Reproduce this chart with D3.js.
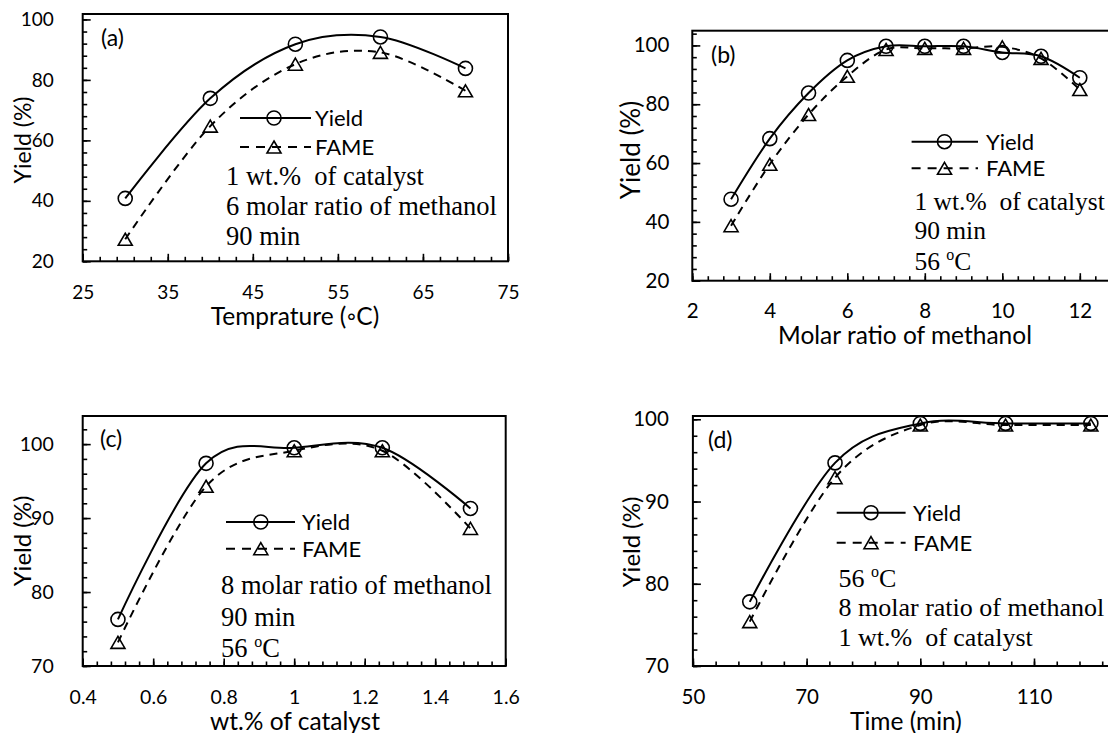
<!DOCTYPE html>
<html>
<head>
<meta charset="utf-8">
<title>Yield and FAME</title>
<script src="https://d3js.org/d3.v7.min.js"></script>
<style>
  body { margin: 0; background: #fff; }
  svg { display: block; }
  .sans { font-family: Lato, "Open Sans", sans-serif; }
  .serif { font-family: "Liberation Serif", "DejaVu Serif", serif; white-space: pre; }
</style>
</head>
<body>
<svg id="chart"></svg>
<script>

// (a) temperature
let tempX = [30, 40, 50, 60, 70];
let tempYield = [40.8, 73.9, 91.8, 94.2, 83.8];
let tempFame = [27.3, 64.7, 85.2, 89.1, 76.4];

// (b) molar ratio of methanol
let molarX = [3, 4, 5, 6, 7, 8, 9, 10, 11, 12];
let molarYield = [47.7, 68.3, 83.8, 94.9, 99.7, 99.7, 99.7, 97.6, 96.3, 89.0];
let molarFame = [38.7, 59.6, 76.5, 89.5, 98.6, 99.0, 99.0, 99.5, 95.6, 85.0];

// (c) catalyst loading
let catX = [0.5, 0.75, 1, 1.25, 1.5];
let catYield = [76.3, 97.4, 99.5, 99.5, 91.3];
let catFame = [73.2, 94.3, 99.1, 99.1, 88.6];

// (d) reaction time
let timeX = [60, 75, 90, 105, 120];
let timeYield = [77.8, 94.7, 99.5, 99.5, 99.5];
let timeFame = [75.4, 92.9, 99.3, 99.3, 99.3];

// tick labels (the ones that fall inside the picture)
let tempTicks = [25, 35, 45, 55, 65, 75];
let molarTicks = [2, 4, 6, 8, 10, 12];
let catTicks = [0.4, 0.6, 0.8, 1, 1.2, 1.4, 1.6];
let timeTicks = [50, 70, 90, 110];
let yTicksAB = [20, 40, 60, 80, 100];
let yTicksCD = [70, 80, 90, 100];

let seriesNames = ['Yield', 'FAME'];
let xTitles = ['Temprature (\u25E6C)', 'Molar ratio of methanol', 'wt.% of catalyst', 'Time (min)'];
let yTitle = 'Yield (%)';
let panelTags = ['(a)', '(b)', '(c)', '(d)'];
let notesA = ['1 wt.%  of catalyst', '6 molar ratio of methanol', '90 min'];
let notesB = ['1 wt.%  of catalyst', '90 min', '56 ^oC'];
let notesC = ['8 molar ratio of methanol', '90 min', '56 ^oC'];
let notesD = ['56 ^oC', '8 molar ratio of methanol', '1 wt.%  of catalyst'];

let svg = d3.select('#chart').attr('width', 1108).attr('height', 733);

let panels = [
  {
    tag: panelTags[0], x: tempX, yield: tempYield, fame: tempFame,
    xTicks: tempTicks, xMinor: 2, xDom: [25, 75], yTicks: yTicksAB, yMinor: 4, yDom: [20, 101.8],
    left: 82.7, right: 508, bottom: 261.3, top: 14,
    tickFont: 19, yPad: 29, yTitleX: 31, yTitleY: 140, yTitleFont: 23,
    xTitle: xTitles[0], xTitleX: 295, xTitleFont: 24.5,
    tagX: 101, tagY: 46,
    leg: { x0: 240, x1: 311, m: 274, y1: 118, y2: 147, tx: 315 },
    notes: notesA, noteX: 226, noteY: [185, 215, 245], noteFont: 26.5
  },
  {
    tag: panelTags[1], x: molarX, yield: molarYield, fame: molarFame,
    xTicks: molarTicks, xMinor: 0.4, xDom: [2, 14], yTicks: yTicksAB, yMinor: 4, yDom: [20, 105],
    left: 692.3, right: 1157.3, bottom: 280.7, top: 30.7,
    tickFont: 20.5, yPad: 23, yTitleX: 640, yTitleY: 150, yTitleFont: 26,
    xTitle: xTitles[1], xTitleX: 905, xTitleFont: 24.5,
    tagX: 711, tagY: 63,
    leg: { x0: 911.6, x1: 978, m: 944.5, y1: 141.7, y2: 168.3, tx: 986 },
    notes: notesB, noteX: 914.4, noteY: [210, 239, 270], noteFont: 25.5
  },
  {
    tag: panelTags[2], x: catX, yield: catYield, fame: catFame,
    xTicks: catTicks, xMinor: 0.04, xDom: [0.4, 1.6], yTicks: yTicksCD, yMinor: 2, yDom: [70, 103.8],
    left: 82.7, right: 505.7, bottom: 666, top: 416,
    tickFont: 19.5, yPad: 29, yTitleX: 31, yTitleY: 541, yTitleFont: 24,
    xTitle: xTitles[2], xTitleX: 295, xTitleFont: 24.5,
    tagX: 100, tagY: 447,
    leg: { x0: 226, x1: 295, m: 260.8, y1: 522, y2: 548.7, tx: 302 },
    notes: notesC, noteX: 221, noteY: [594, 626, 657], noteFont: 26.5
  },
  {
    tag: panelTags[3], x: timeX, yield: timeYield, fame: timeFame,
    xTicks: timeTicks, xMinor: 4, xDom: [50, 130], yTicks: yTicksCD, yMinor: 2, yDom: [70, 100.4],
    left: 692.9, right: 1147.7, bottom: 666, top: 416,
    tickFont: 20.5, yPad: 24, yTitleX: 640, yTitleY: 542, yTitleFont: 24,
    xTitle: xTitles[3], xTitleX: 906, xTitleFont: 24.5,
    tagX: 708, tagY: 448,
    leg: { x0: 836.7, x1: 905.6, m: 871, y1: 512.7, y2: 542.7, tx: 913 },
    notes: notesD, noteX: 838.5, noteY: [587, 616, 646], noteFont: 26
  }
];

panels.forEach(drawPanel);

function range(a, b, step) {
  let out = [];
  let n = Math.floor((b - a) / step + 1e-6);
  for (let i = 0; i <= n; i++) out.push(+(a + i * step).toFixed(4));
  return out;
}

function trianglePath(cx, cy) {
  let w = 7, h = 6;
  return 'M' + cx + ',' + (cy - h) + 'L' + (cx + w) + ',' + (cy + h) + 'L' + (cx - w) + ',' + (cy + h) + 'Z';
}

function drawPanel(p) {
  let g = svg.append('g');

  let xx = d3.scaleLinear().domain(p.xDom).range([p.left, p.right]);
  let yy = d3.scaleLinear().domain(p.yDom).range([p.bottom, p.top]);

  // minor ticks (inside)
  let xMinorAxis = d3.axisBottom(xx).tickValues(range(p.xDom[0], p.xDom[1], p.xMinor))
    .tickSizeInner(-4.5).tickSizeOuter(0).tickFormat('');
  let yMinorAxis = d3.axisLeft(yy).tickValues(range(p.yTicks[0], p.yDom[1], p.yMinor))
    .tickSizeInner(-4.5).tickSizeOuter(0).tickFormat('');
  g.append('g').attr('transform', translate(0, p.bottom)).call(xMinorAxis);
  g.append('g').attr('transform', translate(p.left, 0)).call(yMinorAxis);

  // major ticks + labels
  let xAxis = d3.axisBottom(xx).tickValues(p.xTicks).tickSizeInner(-7.5).tickSizeOuter(0)
    .tickPadding(37.5 - p.tickFont * 0.71).tickFormat(d3.format(''));
  let yAxis = d3.axisLeft(yy).tickValues(p.yTicks).tickSizeInner(-8).tickSizeOuter(0)
    .tickPadding(p.yPad).tickFormat(d3.format(''));
  g.append('g').attr('class', 'x-axis').attr('transform', translate(0, p.bottom)).call(xAxis);
  g.append('g').attr('class', 'y-axis').attr('transform', translate(p.left, 0)).call(yAxis);

  g.selectAll('.domain').remove();
  g.selectAll('.tick line').attr('stroke', '#000').attr('stroke-width', 1.6);
  g.selectAll('.tick text').attr('class', 'sans').attr('font-size', p.tickFont).attr('fill', '#000');

  // frame
  g.append('rect')
    .attr('x', p.left).attr('y', p.top)
    .attr('width', p.right - p.left).attr('height', p.bottom - p.top)
    .attr('fill', 'none').attr('stroke', '#000').attr('stroke-width', 2);

  // axis titles
  g.append('text').attr('class', 'sans')
    .attr('x', p.xTitleX)
    .attr('y', p.bottom + 63.5)
    .attr('text-anchor', 'middle').attr('font-size', p.xTitleFont)
    .text(p.xTitle);
  g.append('text').attr('class', 'sans')
    .attr('transform', translate(p.yTitleX, p.yTitleY) + ' rotate(-90)')
    .attr('text-anchor', 'middle').attr('font-size', p.yTitleFont)
    .text(yTitle);

  // panel tag
  g.append('text').attr('class', 'sans')
    .attr('x', p.tagX).attr('y', p.tagY).attr('font-size', 23)
    .text(p.tag);

  // series
  let pts = (ys) => p.x.map((d, i) => [d, ys[i]]);
  let line = d3.line()
    .x(d => xx(d[0]))
    .y(d => yy(d[1]))
    .curve(d3.curveCatmullRom.alpha(0));

  g.append('path').datum(pts(p.yield))
    .attr('d', line).attr('fill', 'none').attr('stroke', '#000').attr('stroke-width', 2);
  g.append('path').datum(pts(p.fame))
    .attr('d', line).attr('fill', 'none').attr('stroke', '#000').attr('stroke-width', 2)
    .attr('stroke-dasharray', '8,6');

  g.selectAll('.circ').data(pts(p.yield)).enter().append('circle')
    .attr('cx', d => xx(d[0])).attr('cy', d => yy(d[1])).attr('r', 7)
    .attr('fill', 'none').attr('stroke', '#000').attr('stroke-width', 1.6);
  g.selectAll('.tri').data(pts(p.fame)).enter().append('path')
    .attr('d', d => trianglePath(xx(d[0]), yy(d[1])))
    .attr('fill', 'none').attr('stroke', '#000').attr('stroke-width', 1.6);

  // legend
  let L = p.leg;
  g.append('line').attr('x1', L.x0).attr('x2', L.x1).attr('y1', L.y1).attr('y2', L.y1)
    .attr('stroke', '#000').attr('stroke-width', 2);
  g.append('circle').attr('cx', L.m).attr('cy', L.y1).attr('r', 7)
    .attr('fill', 'none').attr('stroke', '#000').attr('stroke-width', 1.6);
  g.append('line').attr('x1', L.x0).attr('x2', L.x1).attr('y1', L.y2).attr('y2', L.y2)
    .attr('stroke', '#000').attr('stroke-width', 2).attr('stroke-dasharray', '9,7');
  g.append('path').attr('d', trianglePath(L.m, L.y2))
    .attr('fill', 'none').attr('stroke', '#000').attr('stroke-width', 1.6);
  [L.y1, L.y2].forEach((yv, i) => {
    g.append('text').attr('class', 'sans')
      .attr('x', L.tx).attr('y', yv + 8).attr('font-size', 22)
      .text(seriesNames[i]);
  });

  // conditions
  p.notes.forEach((s, i) => {
    let t = g.append('text').attr('class', 'serif')
      .attr('x', p.noteX).attr('y', p.noteY[i]).attr('font-size', p.noteFont);
    let parts = s.split('^o');
    if (parts.length > 1) {
      t.append('tspan').text(parts[0]);
      t.append('tspan').attr('font-size', 16).attr('dy', -10).text('o');
      t.append('tspan').attr('dy', 10).text(parts[1]);
    } else {
      t.text(s);
    }
  });
}

// helper method to make translating easier
function translate(x, y) {
  return 'translate(' + x + ',' + y + ')';
}

</script>
</body>
</html>
